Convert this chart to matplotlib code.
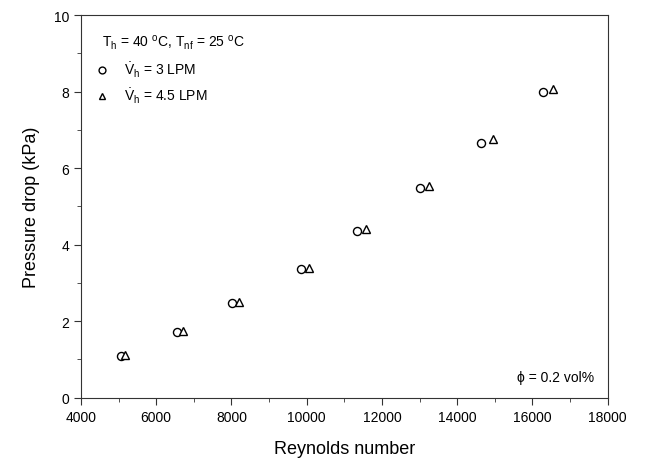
import matplotlib
matplotlib.use("Agg")
import matplotlib.pyplot as plt
from matplotlib.ticker import MultipleLocator

plt.rcParams['font.family'] = ['Liberation Sans', 'DejaVu Sans']
plt.rcParams['mathtext.fontset'] = 'custom'
plt.rcParams['mathtext.rm'] = 'Liberation Sans'
plt.rcParams['mathtext.it'] = 'Liberation Sans'

# Vh = 3 LPM
re_3 = [5056, 6553, 8008, 9851, 11340, 13000, 14647, 16295]
dp_3 = [1.08, 1.72, 2.47, 3.36, 4.36, 5.47, 6.66, 7.99]
# Vh = 4.5 LPM
re_45 = [5170, 6705, 8194, 10072, 11580, 13263, 14966, 16553]
dp_45 = [1.12, 1.74, 2.51, 3.39, 4.42, 5.53, 6.75, 8.07]

fig = plt.figure(figsize=(6.5, 4.64), dpi=100)
ax = fig.add_axes([0.1246, 0.1407, 0.8102, 0.8248])

ax.plot(re_3, dp_3, 'o', mfc='white', mec='black', mew=1.0, ms=5.8,
        linestyle='none', label=r'$\dot{\mathrm{V}}_\mathrm{h}$ = 3 LPM')
ax.plot(re_45, dp_45, '^', mfc='white', mec='black', mew=1.0, ms=5.5,
        linestyle='none', label=r'$\dot{\mathrm{V}}_\mathrm{h}$ = 4.5 LPM')

ax.set_xlim(4000, 18000)
ax.set_ylim(0, 10)
ax.xaxis.set_major_locator(MultipleLocator(2000))
ax.xaxis.set_minor_locator(MultipleLocator(1000))
ax.yaxis.set_major_locator(MultipleLocator(2))
ax.yaxis.set_minor_locator(MultipleLocator(1))
ax.tick_params(which='both', direction='out', labelsize=10, color='#333333')
ax.tick_params(which='major', length=5)
ax.tick_params(which='minor', length=3)
for s in ax.spines.values():
    s.set_color('#333333')

ax.set_xlabel('Reynolds number', fontsize=13, labelpad=12)
ax.set_ylabel('Pressure drop (kPa)', fontsize=13, labelpad=10)

ax.text(0.04, 0.955, r'T$_\mathrm{h}$ = 40 $^\mathrm{o}$C, T$_\mathrm{nf}$ = 25 $^\mathrm{o}$C',
        transform=ax.transAxes, fontsize=10, va='top')
ax.legend(loc='upper left', bbox_to_anchor=(0.0, 0.915), frameon=False,
          fontsize=10, handletextpad=1.0, handlelength=1.2, labelspacing=0.5,
          markerscale=0.85)
ax.text(0.975, 0.035, 'ϕ = 0.2 vol%', transform=ax.transAxes, fontsize=10,
        ha='right', va='bottom')

fig.savefig('out.png', dpi=100)
